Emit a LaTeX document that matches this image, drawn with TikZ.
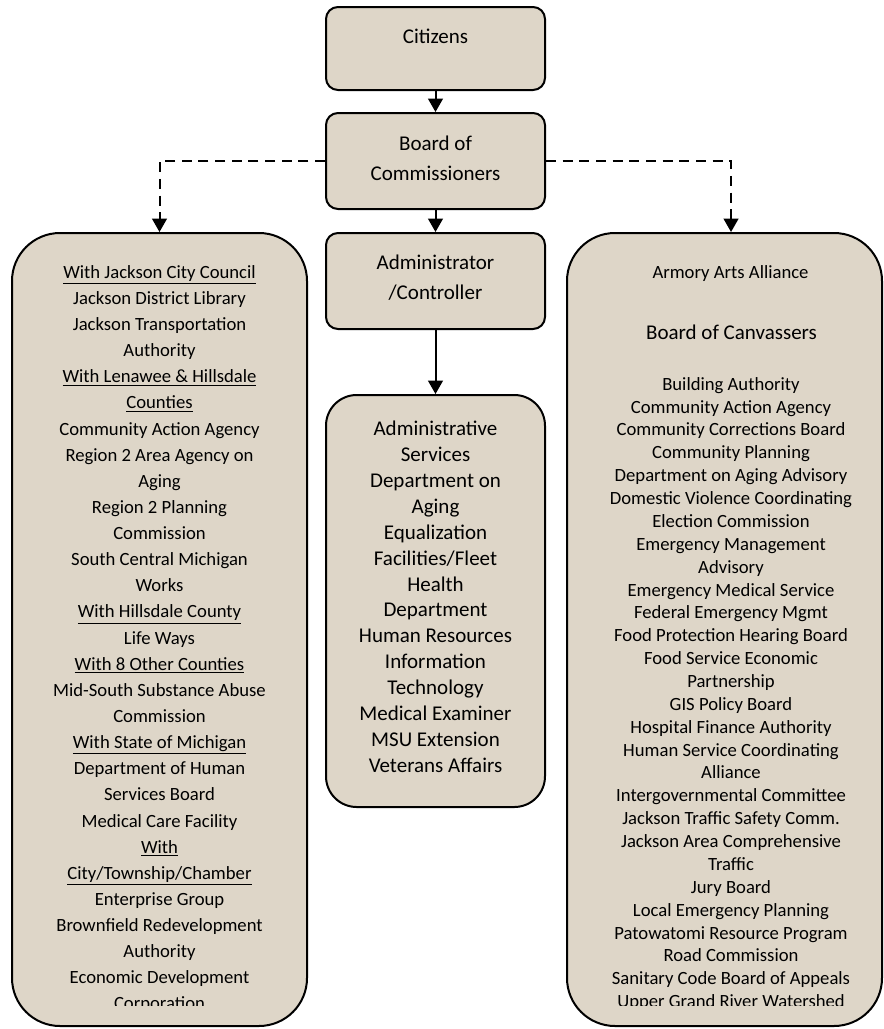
\documentclass[tikz,border=0pt]{standalone}
\usepackage{fontspec}
\setmainfont{Carlito}
\usetikzlibrary{arrows.meta,fit}
\definecolor{parch}{RGB}{222,214,200}
\tikzset{
  boxsmall/.style={draw=black, line width=1.5pt, fill=parch, rounded corners=9pt, inner sep=0pt},
  boxlist/.style={draw=black, line width=1.5pt, fill=parch, rounded corners=23pt, inner sep=0pt},
  boxbig/.style={draw=black, line width=1.5pt, fill=parch, rounded corners=36pt, inner sep=0pt},
  bigtxt/.style={font={\fontsize{15.75}{22.5}\selectfont}, align=center, inner sep=0pt},
  midtxt/.style={font={\fontsize{15.75}{19.4}\selectfont}, align=center, inner sep=0pt},
  lefttxt/.style={font={\fontsize{14}{19.6}\selectfont}, align=center, inner sep=0pt},
  righttxt/.style={font={\fontsize{14}{17.15}\selectfont}, align=center, inner sep=0pt},
  arr/.style={line width=1.5pt, -{Triangle[width=11pt,length=10pt]}},
  dasharr/.style={line width=1.5pt, dash pattern=on 7.5pt off 5pt, -{Triangle[width=11pt,length=10pt]}}
}
\begin{document}
\begin{tikzpicture}[x=0.75pt, y=-0.75pt]
\useasboundingbox (0,0) rectangle (883,1029);
% boxes
\node[boxsmall, fit={(326,7) (545,90)}] (cit) {};
\node[boxsmall, fit={(326,113) (545,209)}] (board) {};
\node[boxsmall, fit={(326,233) (545,329)}] (admin) {};
\node[boxlist, fit={(326,395) (545,807)}] (mid) {};
\node[boxbig, fit={(12,233) (307,1026)}] (left) {};
\node[boxbig, fit={(567,233) (882,1026)}] (right) {};
% connectors
\draw[arr] (cit) -- (board);
\draw[arr] (board) -- (admin);
\draw[arr] (admin) -- (mid);
\draw[dasharr] (board.west) -| (left.north);
\draw[dasharr] (board.east) -| ([xshift=4.9pt]right.north);
% texts
\node[bigtxt, anchor=base] (citt) at (435.5,43) {Citizens};
\node[bigtxt, anchor=north] (boardt) at (435.5,136) {Board of\\Commissioners};
\node[bigtxt, anchor=north] (admint) at (435.5,255) {Administrator\\/Controller};
\node[midtxt, anchor=north] (midt) at (435.5,421) {Administrative\\Services\\Department on\\Aging\\Equalization\\Facilities/Fleet\\Health\\Department\\Human Resources\\Information\\Technology\\Medical Examiner\\MSU Extension\\Veterans Affairs};
\node[righttxt, anchor=north] (armt) at (730.5,265) {Armory Arts Alliance};
\node[bigtxt, anchor=north] (canvt) at (731.5,325) {Board of Canvassers};
\begin{scope}
\clip (0,0) rectangle (883,1005.5);
\node[lefttxt, anchor=north] (leftt) at (159.5,265) {\underline{With Jackson City Council}\\
Jackson District Library\\
Jackson Transportation\\
Authority\\
\underline{With Lenawee \& Hillsdale}\\
\underline{Counties}\\
Community Action Agency\\
Region 2 Area Agency on\\
Aging\\
Region 2 Planning\\
Commission\\
South Central Michigan\\
Works\\
\underline{With Hillsdale County}\\
Life Ways\\
\underline{With 8 Other Counties}\\
Mid-South Substance Abuse\\
Commission\\
\underline{With State of Michigan}\\
Department of Human\\
Services Board\\
Medical Care Facility\\
\underline{With}\\
\underline{City/Township/Chamber}\\
Enterprise Group\\
Brownfield Redevelopment\\
Authority\\
Economic Development\\
Corporation};
\node[righttxt, anchor=north] (rightt) at (731,377) {Building Authority\\
Community Action Agency\\
Community Corrections Board\\
Community Planning\\
Department on Aging Advisory\\
Domestic Violence Coordinating\\
Election Commission\\
Emergency Management\\
Advisory\\
Emergency Medical Service\\
Federal Emergency Mgmt\\
Food Protection Hearing Board\\
Food Service Economic\\
Partnership\\
GIS Policy Board\\
Hospital Finance Authority\\
Human Service Coordinating\\
Alliance\\
Intergovernmental Committee\\
Jackson Traffic Safety Comm.\\
Jackson Area Comprehensive\\
Traffic\\
Jury Board\\
Local Emergency Planning\\
Patowatomi Resource Program\\
Road Commission\\
Sanitary Code Board of Appeals\\
Upper Grand River Watershed};
\end{scope}
\end{tikzpicture}
\end{document}
